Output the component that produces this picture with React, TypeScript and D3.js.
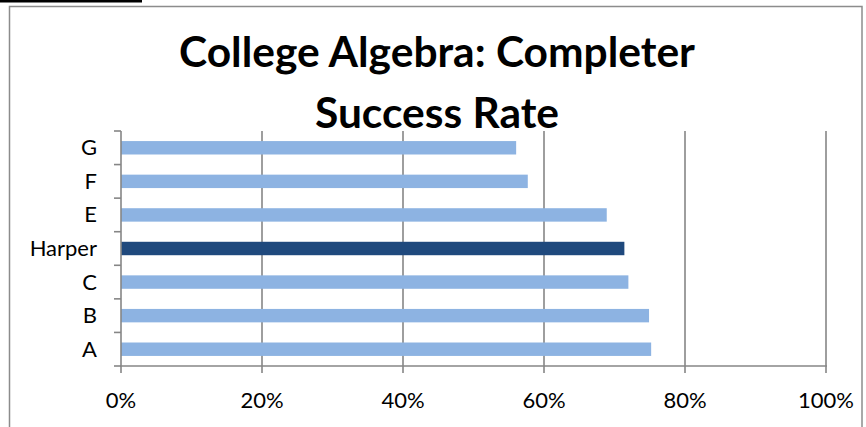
import React from "react";
import * as d3 from "d3";

const categories = ["G", "F", "E", "Harper", "C", "B", "A"];
const values = [0.5605, 0.577, 0.689, 0.714, 0.7197, 0.749, 0.752];
const highlight = "Harper";
const xTicks = [0, 0.2, 0.4, 0.6, 0.8, 1.0];
const titleLines = ["College Algebra: Completer", "Success Rate"];

const W = 866;
const H = 427;
const plot = { left: 121, right: 826, top: 131, bottom: 366 };
const axisColor = "#868686";
const font = "Lato, 'Liberation Sans', sans-serif";

export default function App() {
  const x = d3.scaleLinear().domain([0, 1]).range([plot.left, plot.right]);
  const y = d3
    .scaleBand<string>()
    .domain(categories)
    .range([plot.top, plot.bottom])
    .paddingInner(0.6)
    .paddingOuter(0.3);
  const step = y.step();
  const boundaries = d3.range(categories.length + 1).map((i) => plot.top + i * step);
  const fmt = d3.format(".0%");

  return (
    <div style={{ position: "absolute", left: 0, top: 0 }}>
      <svg width={W} height={H} style={{ display: "block", background: "#fff" }}>
        <rect x={0} y={0} width={W} height={H} fill="#fff" />
        <rect x={0} y={0} width={142} height={2.5} fill="#000" />
        <rect x={9.5} y={6.5} width={852.5} height={H} fill="none" stroke="#8c8c8c" strokeWidth={1.5} />

        {/* gridlines */}
        {xTicks.slice(1).map((t) => (
          <line key={"g" + t} x1={x(t)} x2={x(t)} y1={plot.top} y2={plot.bottom} stroke={axisColor} strokeWidth={1.6} />
        ))}

        {/* bars */}
        {categories.map((c, i) => (
          <rect
            key={c}
            x={x(0)}
            y={y(c)}
            width={x(values[i]) - x(0)}
            height={y.bandwidth()}
            fill={c === highlight ? "#1F497D" : "#8DB3E2"}
          />
        ))}

        {/* y axis */}
        <line x1={plot.left} x2={plot.left} y1={plot.top} y2={plot.bottom} stroke={axisColor} strokeWidth={1.6} />
        {boundaries.map((b, i) => (
          <line key={"yt" + i} x1={plot.left - 7} x2={plot.left} y1={b} y2={b} stroke={axisColor} strokeWidth={1.6} />
        ))}
        {categories.map((c) => (
          <text
            key={"yl" + c}
            x={97}
            y={(y(c) as number) + y.bandwidth() / 2 + 7.5}
            textAnchor="end"
            fontFamily={font}
            fontSize={22}
            fill="#000"
          >
            {c}
          </text>
        ))}

        {/* x axis */}
        <line x1={plot.left - 1} x2={plot.right + 1} y1={plot.bottom} y2={plot.bottom} stroke={axisColor} strokeWidth={1.6} />
        {xTicks.map((t) => (
          <g key={"xt" + t}>
            <line x1={x(t)} x2={x(t)} y1={plot.bottom} y2={plot.bottom + 7} stroke={axisColor} strokeWidth={1.6} />
            <text x={x(t)} y={408} textAnchor="middle" fontFamily={font} fontSize={22} fill="#000">
              {fmt(t)}
            </text>
          </g>
        ))}

        {/* title */}
        {titleLines.map((l, i) => (
          <text
            key={"t" + i}
            x={437}
            y={67 + i * 61}
            textAnchor="middle"
            fontFamily={font}
            fontWeight="bold"
            fontSize={42.5}
            fill="#000"
          >
            {l}
          </text>
        ))}
      </svg>
    </div>
  );
}
